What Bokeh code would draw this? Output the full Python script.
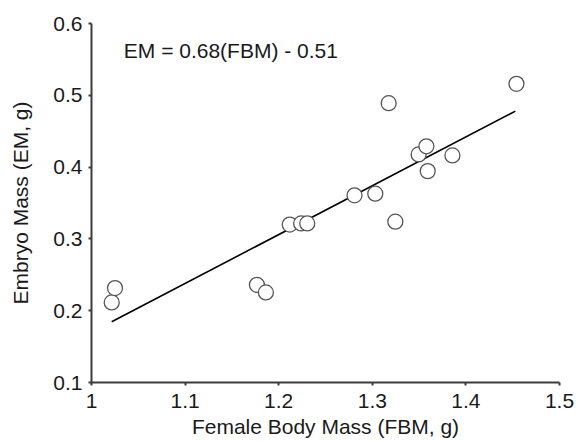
from bokeh.plotting import figure
from bokeh.models import ColumnDataSource, Label, FixedTicker, Range1d
from bokeh.embed import file_html
from bokeh.resources import INLINE

# Data
fbm = [1.0216, 1.0251, 1.1767, 1.1863, 1.2118, 1.2240, 1.2305, 1.2810,
       1.3032, 1.3175, 1.3246, 1.3495, 1.3578, 1.3592, 1.3856, 1.4540]
em = [0.2115, 0.2315, 0.2360, 0.2254, 0.3199, 0.3215, 0.3215, 0.3607,
      0.3630, 0.4890, 0.3240, 0.4176, 0.4290, 0.3944, 0.4162, 0.5160]

slope = 0.68
intercept = -0.51
fit_x = [1.0216, 1.4529]
fit_y = [slope * v + intercept for v in fit_x]

x_ticks = [1.0, 1.1, 1.2, 1.3, 1.4, 1.5]
x_tick_labels = ["1", "1.1", "1.2", "1.3", "1.4", "1.5"]
y_ticks = [0.1, 0.2, 0.3, 0.4, 0.5, 0.6]
y_tick_labels = ["0.1", "0.2", "0.3", "0.4", "0.5", "0.6"]

equation = "EM = 0.68(FBM) - 0.51"
x_title = "Female Body Mass (FBM, g)"
y_title = "Embryo Mass (EM, g)"

FONT = "Liberation Sans"
FS = "21px"

p = figure(width=576, height=441, output_backend="svg", toolbar_location=None,
           x_range=Range1d(1.0, 1.5), y_range=Range1d(0.1, 0.6),
           min_border_left=91, min_border_right=17, min_border_top=23,
           min_border_bottom=59)
p.outline_line_color = None
p.grid.visible = False
p.background_fill_color = "white"
p.border_fill_color = "white"

for ax in (p.xaxis, p.yaxis):
    ax.axis_line_width = 2
    ax.axis_line_color = "#3c3c3c"
    ax.major_tick_line_color = "#3c3c3c"
    ax.major_tick_line_width = 2
    ax.major_tick_in = 0
    ax.major_tick_out = 3
    ax.minor_tick_line_color = None
    ax.major_label_text_font = FONT
    ax.major_label_text_font_size = FS
    ax.major_label_text_color = "#1a1a1a"
    ax.axis_label_text_font = FONT
    ax.axis_label_text_font_size = FS
    ax.axis_label_text_font_style = "normal"
    ax.axis_label_text_color = "#1a1a1a"

p.xaxis.ticker = FixedTicker(ticks=x_ticks)
p.xaxis.major_label_overrides = dict(zip(x_ticks, x_tick_labels))
p.yaxis.ticker = FixedTicker(ticks=y_ticks)
p.yaxis.major_label_overrides = dict(zip(y_ticks, y_tick_labels))
p.xaxis.axis_label = x_title
p.yaxis.axis_label = y_title
p.xaxis.major_label_standoff = 8
p.yaxis.major_label_standoff = 6
p.xaxis.axis_label_standoff = 4
p.yaxis.axis_label_standoff = 18

src = ColumnDataSource(dict(x=fbm, y=em))
p.line(fit_x, fit_y, line_color="black", line_width=1.6)
p.scatter("x", "y", source=src, marker="circle", size=15,
          fill_color="white", line_color="#555555", line_width=1.3)

p.add_layout(Label(x=1.0345, y=0.5626, text=equation, text_font=FONT,
                   text_font_size=FS, text_baseline="alphabetic",
                   text_color="#1a1a1a"))

open("out.html", "w").write(file_html(p, INLINE))
